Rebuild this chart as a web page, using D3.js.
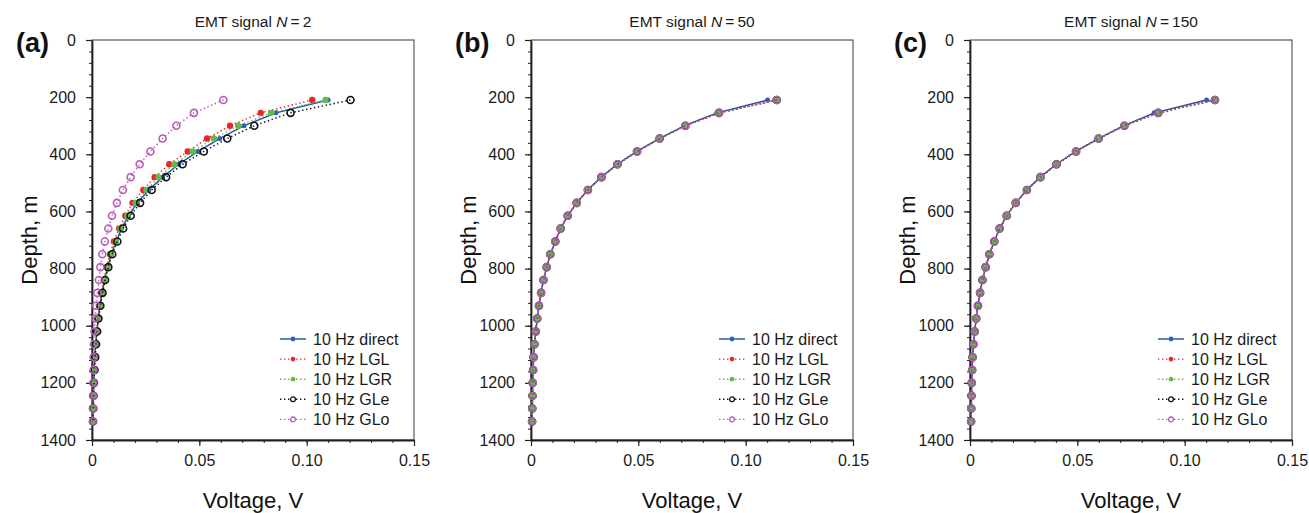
<!DOCTYPE html>
<html>
<head>
<meta charset="utf-8">
<script src="https://cdn.jsdelivr.net/npm/d3@7"></script>
<style>
  body { margin: 0; background: #fff; }
  svg { font-family: "Liberation Sans", Arial, sans-serif; }
</style>
</head>
<body>
<script>
// depths of the receiver stations, m
const depths = [210, 255, 300, 345, 390, 435, 480, 525, 570, 615, 660, 705, 750,
                795, 840, 885, 930, 975, 1020, 1065, 1110, 1155, 1200, 1245, 1290, 1335];

const seriesNames = ["10 Hz direct", "10 Hz LGL", "10 Hz LGR", "10 Hz GLe", "10 Hz GLo"];
const panelLetters = ["(a)", "(b)", "(c)"];
const panelN = [2, 50, 150];
const xTicks = [0, 0.05, 0.10, 0.15];
const yTicks = [0, 200, 400, 600, 800, 1000, 1200, 1400];

// panel (a), N = 2
const aDirect = [0.1100, 0.0857, 0.0708, 0.0595, 0.0494, 0.0404, 0.0329, 0.0265, 0.0211, 0.0171, 0.0138, 0.0113, 0.0090,
                 0.0073, 0.0058, 0.0047, 0.0037, 0.0029, 0.0023, 0.0017, 0.0013, 0.0010, 0.0008, 0.0007, 0.0006, 0.0005];
const aLGL = [0.1026, 0.0786, 0.0643, 0.0536, 0.0446, 0.0360, 0.0292, 0.0239, 0.0189, 0.0155, 0.0127, 0.0102, 0.0084,
              0.0068, 0.0055, 0.0044, 0.0035, 0.0028, 0.0022, 0.0017, 0.0013, 0.0010, 0.0008, 0.0007, 0.0006, 0.0005];
const aLGR = [0.1088, 0.0834, 0.0681, 0.0568, 0.0469, 0.0383, 0.0310, 0.0254, 0.0203, 0.0165, 0.0134, 0.0110, 0.0088,
              0.0072, 0.0058, 0.0046, 0.0037, 0.0029, 0.0023, 0.0017, 0.0013, 0.0010, 0.0008, 0.0007, 0.0006, 0.0005];
const aGLe = [0.1204, 0.0925, 0.0756, 0.0630, 0.0521, 0.0422, 0.0345, 0.0278, 0.0224, 0.0180, 0.0145, 0.0118, 0.0094,
              0.0076, 0.0061, 0.0049, 0.0039, 0.0030, 0.0024, 0.0019, 0.0015, 0.0012, 0.0009, 0.0007, 0.0006, 0.0005];
const aGLo = [0.0612, 0.0475, 0.0393, 0.0329, 0.0272, 0.0222, 0.0180, 0.0144, 0.0116, 0.0093, 0.0076, 0.0060, 0.0048,
              0.0039, 0.0032, 0.0025, 0.0019, 0.0015, 0.0012, 0.0009, 0.0008, 0.0007, 0.0006, 0.0005, 0.0004, 0.0004];

// panel (b), N = 50
const bDirect = [0.1102, 0.0866, 0.0716, 0.0598, 0.0493, 0.0402, 0.0327, 0.0264, 0.0213, 0.0171, 0.0138, 0.0113, 0.0090,
                 0.0073, 0.0058, 0.0047, 0.0037, 0.0029, 0.0022, 0.0016, 0.0012, 0.0010, 0.0008, 0.0007, 0.0006, 0.0005];
const bLGL = [0.1140, 0.0874, 0.0719, 0.0599, 0.0494, 0.0403, 0.0328, 0.0265, 0.0213, 0.0171, 0.0138, 0.0113, 0.0090,
              0.0073, 0.0058, 0.0047, 0.0037, 0.0029, 0.0022, 0.0016, 0.0012, 0.0010, 0.0008, 0.0007, 0.0006, 0.0005];
const bLGR = [0.1142, 0.0875, 0.0719, 0.0599, 0.0494, 0.0403, 0.0328, 0.0265, 0.0213, 0.0171, 0.0138, 0.0113, 0.0090,
              0.0073, 0.0058, 0.0047, 0.0037, 0.0029, 0.0022, 0.0016, 0.0012, 0.0010, 0.0008, 0.0007, 0.0006, 0.0005];
const bGLe = [0.1145, 0.0876, 0.0719, 0.0599, 0.0494, 0.0403, 0.0328, 0.0265, 0.0213, 0.0171, 0.0138, 0.0113, 0.0090,
              0.0073, 0.0058, 0.0047, 0.0037, 0.0029, 0.0022, 0.0016, 0.0012, 0.0010, 0.0008, 0.0007, 0.0006, 0.0005];
const bGLo = [0.1145, 0.0876, 0.0719, 0.0599, 0.0494, 0.0403, 0.0328, 0.0265, 0.0213, 0.0171, 0.0138, 0.0113, 0.0090,
              0.0073, 0.0058, 0.0047, 0.0037, 0.0029, 0.0022, 0.0016, 0.0012, 0.0010, 0.0008, 0.0007, 0.0006, 0.0005];

// panel (c), N = 150
const cDirect = [0.1102, 0.0858, 0.0717, 0.0598, 0.0493, 0.0402, 0.0327, 0.0264, 0.0213, 0.0171, 0.0138, 0.0113, 0.0090,
                 0.0073, 0.0058, 0.0047, 0.0037, 0.0029, 0.0022, 0.0016, 0.0012, 0.0010, 0.0008, 0.0007, 0.0006, 0.0005];
const cLGL = [0.1138, 0.0876, 0.0719, 0.0599, 0.0494, 0.0403, 0.0328, 0.0265, 0.0213, 0.0171, 0.0138, 0.0113, 0.0090,
              0.0073, 0.0058, 0.0047, 0.0037, 0.0029, 0.0022, 0.0016, 0.0012, 0.0010, 0.0008, 0.0007, 0.0006, 0.0005];
const cLGR = [0.1140, 0.0877, 0.0719, 0.0599, 0.0494, 0.0403, 0.0328, 0.0265, 0.0213, 0.0171, 0.0138, 0.0113, 0.0090,
              0.0073, 0.0058, 0.0047, 0.0037, 0.0029, 0.0022, 0.0016, 0.0012, 0.0010, 0.0008, 0.0007, 0.0006, 0.0005];
const cGLe = [0.1141, 0.0877, 0.0719, 0.0599, 0.0494, 0.0403, 0.0328, 0.0265, 0.0213, 0.0171, 0.0138, 0.0113, 0.0090,
              0.0073, 0.0058, 0.0047, 0.0037, 0.0029, 0.0022, 0.0016, 0.0012, 0.0010, 0.0008, 0.0007, 0.0006, 0.0005];
const cGLo = [0.1141, 0.0877, 0.0719, 0.0599, 0.0494, 0.0403, 0.0328, 0.0265, 0.0213, 0.0171, 0.0138, 0.0113, 0.0090,
              0.0073, 0.0058, 0.0047, 0.0037, 0.0029, 0.0022, 0.0016, 0.0012, 0.0010, 0.0008, 0.0007, 0.0006, 0.0005];

const panelSeries = [
  [aDirect, aLGL, aLGR, aGLe, aGLo],
  [bDirect, bLGL, bLGR, bGLe, bGLo],
  [cDirect, cLGL, cLGR, cGLe, cGLo]
];

// look of each series: line colour, dash, marker
const styles = [
  { line: "#1f4fa0", dash: null, fill: "#2a5fc0", stroke: "none", r: 2.5 },
  { line: "#e8262a", dash: "1.4,2.6", fill: "#e8262a", stroke: "none", r: 3.2 },
  { line: "#62bb46", dash: "1.4,2.6", fill: "#62bb46", stroke: "none", r: 3.2 },
  { line: "#111111", dash: "1.4,2.6", fill: "none", stroke: "#111111", r: 3.5 },
  { line: "#b85cb8", dash: "1.4,2.6", fill: "none", stroke: "#b85cb8", r: 3.5 }
];

const W = 1309, H = 513;
const plotW = 322, plotH = 400, plotTop = 40;
const lefts = [92, 531, 970];

const svg = d3.select("body").append("svg").attr("width", W).attr("height", H);

const x = d3.scaleLinear().domain([0, 0.15]).range([0, plotW]);
const y = d3.scaleLinear().domain([0, 1400]).range([0, plotH]);

panelSeries.forEach((series, p) => {
  const g = svg.append("g").attr("transform", "translate(" + [lefts[p], plotTop] + ")");

  // frame
  g.append("rect").attr("width", plotW).attr("height", plotH)
    .attr("fill", "none").attr("stroke", "#3a3a3a").attr("stroke-width", 1);

  // minor ticks
  g.append("g").call(d3.axisLeft(y).tickValues(d3.range(0, 1401, 40)).tickSize(3).tickFormat(""))
    .call(a => a.select(".domain").remove())
    .selectAll("line").attr("stroke", "#231f20");
  g.append("g").attr("transform", "translate(0," + plotH + ")")
    .call(d3.axisBottom(x).tickValues(d3.range(0, 0.1501, 0.01)).tickSize(3).tickFormat(""))
    .call(a => a.select(".domain").remove())
    .selectAll("line").attr("stroke", "#231f20");

  // major axes
  const ya = g.append("g")
    .call(d3.axisLeft(y).tickValues(yTicks).tickSize(6).tickSizeOuter(0).tickPadding(10)
      .tickFormat(d3.format("d")));
  const xa = g.append("g").attr("transform", "translate(0," + plotH + ")")
    .call(d3.axisBottom(x).tickValues(xTicks).tickSize(6).tickSizeOuter(0).tickPadding(9)
      .tickFormat(d => d === 0 ? "0" : d.toFixed(2)));
  [ya, xa].forEach(a => {
    a.select(".domain").attr("stroke", "#231f20").attr("stroke-width", 1.8);
    a.selectAll(".tick line").attr("stroke", "#231f20").attr("stroke-width", 1.2);
    a.selectAll("text").attr("font-size", "16px").attr("fill", "#1a1a1a")
      .attr("font-family", "Liberation Sans, Arial, sans-serif");
  });

  // series lines then markers
  series.forEach((vals, s) => {
    const st = styles[s];
    const pts = depths.map((d, i) => [vals[i], d]);
    const line = d3.line().x(d => x(d[0])).y(d => y(d[1]));
    g.append("path").datum(pts).attr("d", line)
      .attr("fill", "none").attr("stroke", st.line)
      .attr("stroke-width", s === 0 ? 1.4 : 1.5)
      .attr("stroke-dasharray", st.dash);
    g.append("g").selectAll("circle").data(pts).enter().append("circle")
      .attr("cx", d => x(d[0])).attr("cy", d => y(d[1])).attr("r", st.r)
      .attr("fill", st.fill).attr("stroke", st.stroke).attr("stroke-width", 1.6);
  });

  // legend
  const lg = g.append("g").attr("transform", "translate(188,299)");
  seriesNames.forEach((name, s) => {
    const st = styles[s];
    const row = lg.append("g").attr("transform", "translate(0," + (s * 20.1) + ")");
    row.append("line").attr("x1", 0).attr("x2", 26).attr("y1", 0).attr("y2", 0)
      .attr("stroke", st.line).attr("stroke-width", 1.4).attr("stroke-dasharray", st.dash);
    row.append("circle").attr("cx", 13).attr("cy", 0).attr("r", s >= 3 ? 2.4 : 2.4)
      .attr("fill", s >= 3 ? "#fff" : st.fill).attr("stroke", st.stroke).attr("stroke-width", 1.3);
    row.append("text").attr("x", 33).attr("y", 0).attr("dy", "0.36em")
      .attr("font-size", "16px").attr("fill", "#1a1a1a").text(name);
  });

  // title
  const t = svg.append("text").attr("x", lefts[p] + plotW / 2).attr("y", 27)
    .attr("text-anchor", "middle").attr("font-size", "15.5px").attr("fill", "#1a1a1a");
  t.append("tspan").text("EMT signal ");
  t.append("tspan").attr("font-style", "italic").text("N");
  t.append("tspan").text("\u2009=\u2009" + panelN[p]);

  // panel letter
  svg.append("text").attr("x", lefts[p] - 76).attr("y", 52)
    .attr("font-size", "27px").attr("font-weight", "bold").attr("fill", "#111")
    .text(panelLetters[p]);

  // axis titles
  svg.append("text").attr("x", lefts[p] + plotW / 2).attr("y", 508)
    .attr("text-anchor", "middle").attr("font-size", "22px").attr("fill", "#111")
    .text("Voltage, V");
  svg.append("text").attr("transform", "translate(" + [lefts[p] - 55, plotTop + plotH / 2] + ") rotate(-90)")
    .attr("text-anchor", "middle").attr("font-size", "22px").attr("fill", "#111")
    .text("Depth, m");
});
</script>
</body>
</html>
